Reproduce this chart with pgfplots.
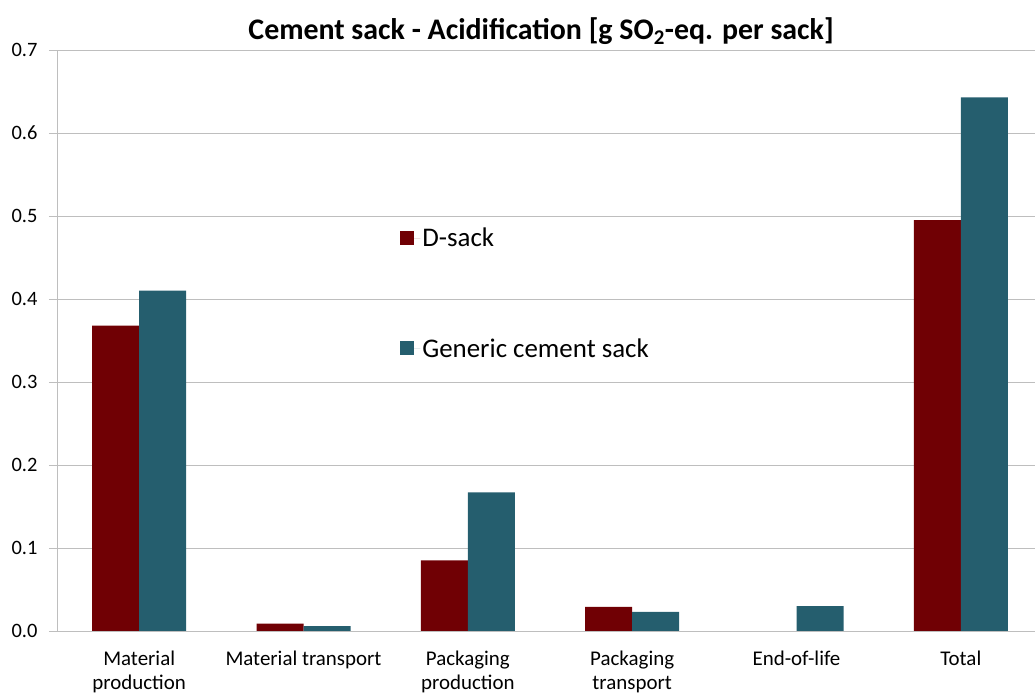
\documentclass[border=0pt]{standalone}
\usepackage{fontspec}
\setmainfont{Carlito}
\usepackage{pgfplots}
\pgfplotsset{compat=1.18}
\definecolor{dsack}{RGB}{112,0,4}
\definecolor{generic}{RGB}{37,94,110}
\definecolor{gridgray}{RGB}{190,190,190}
\begin{document}
\begin{tikzpicture}
\begin{axis}[
  scale only axis, width=986bp, height=581bp,
  ybar=0pt, bar width=0.286,
  xmin=-0.5, xmax=5.5, ymin=0, ymax=0.7,
  axis lines*=left,
  axis line style={gridgray, line width=0.9pt},
  ytick={0,0.1,0.2,0.3,0.4,0.5,0.6,0.7},
  ymajorgrids, grid style={gridgray, line width=0.9pt},
  /pgf/number format/fixed, /pgf/number format/fixed zerofill,
  /pgf/number format/precision=1, /pgf/number format/assume math mode=true,
  yticklabel style={font=\fontsize{20.5}{24}\selectfont, xshift=-8bp},
  xtick={0,1,2,3,4,5},
  xticklabels={{Material\\production},{Material transport},{Packaging\\production},{Packaging\\transport},{End-of-life},{Total}},
  xticklabel style={font=\fontsize{21}{25}\selectfont, align=center, yshift=-8bp},
  minor xtick={0.5,1.5,2.5,3.5,4.5},
  tick align=outside,
  major tick length=8bp, minor tick length=7bp,
  xtick style={draw=none},
  ytick style={gridgray, line width=0.9pt},
  minor tick style={gridgray, line width=0.9pt},
  title={Cement sack - Acidification [g SO\textsubscript{2}-eq. per sack]},
  title style={font=\fontsize{30}{35}\selectfont\bfseries, at={(0.491,1)}, anchor=south, yshift=-4bp},
  legend style={draw=none, fill=none, at={(0.348,0.697)}, anchor=north west,
    font=\fontsize{27}{32}\selectfont, row sep=86bp, inner sep=0pt},
  legend cell align=left,
  legend image code/.code={\fill[#1] (0bp,-7bp) rectangle (14bp,7bp); \path (0bp,0bp) -- (20bp,0bp);},
]
\addplot[fill=dsack, draw=none] coordinates {(0,0.368) (1,0.009) (2,0.085) (3,0.029) (4,0) (5,0.495)};
\addplot[fill=generic, draw=none] coordinates {(0,0.410) (1,0.006) (2,0.167) (3,0.023) (4,0.030) (5,0.643)};
\legend{D-sack, Generic cement sack}
\coordinate (sw) at (rel axis cs:0,0);
\end{axis}
\pgfresetboundingbox
\path ([shift={(-57bp,-64bp)}]sw) rectangle ([shift={(978bp,631bp)}]sw);
\end{tikzpicture}
\end{document}
